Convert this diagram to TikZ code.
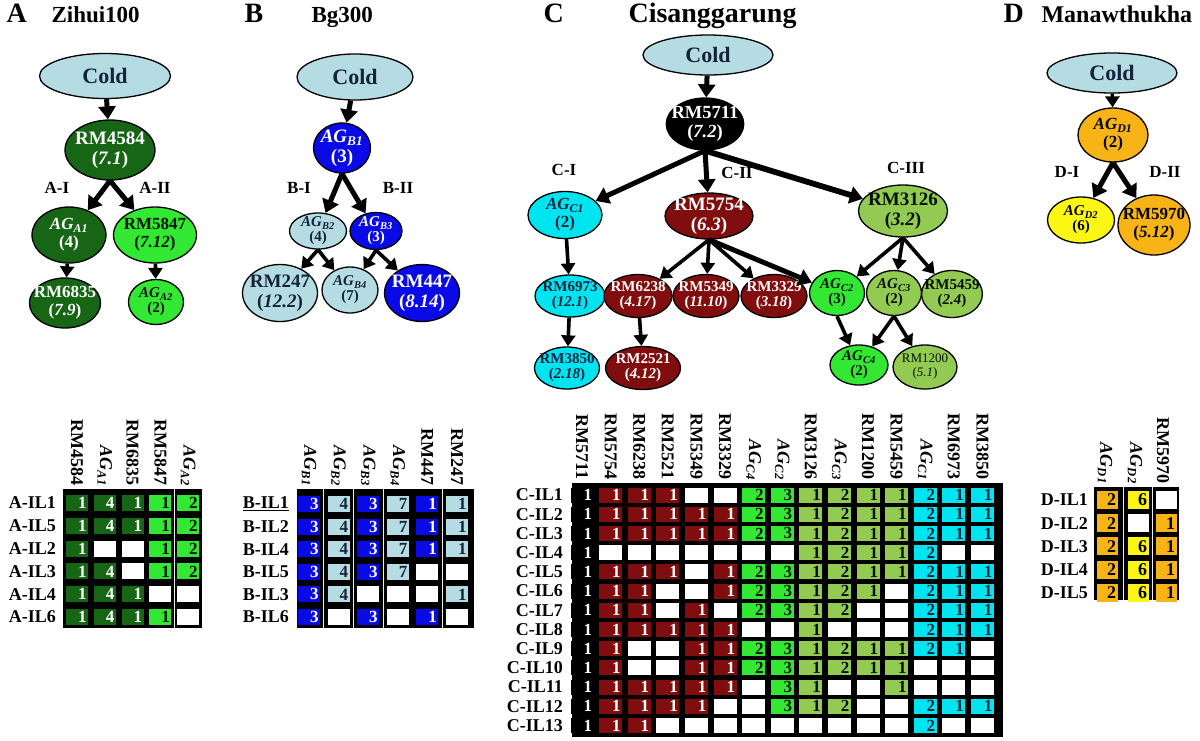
\documentclass[tikz,border=0pt]{standalone}
\usepackage{fontspec}
\setmainfont{Liberation Serif}
\usepackage{xcolor}
\usetikzlibrary{arrows.meta, shapes.geometric}

\definecolor{cPale}{RGB}{180,220,226}
\definecolor{cNavy}{RGB}{20,35,60}
\definecolor{cDkGreen}{RGB}{22,102,22}
\definecolor{cBrGreen}{RGB}{50,232,50}
\definecolor{cBlue}{RGB}{10,10,230}
\definecolor{cCyan}{RGB}{0,228,240}
\definecolor{cMaroon}{RGB}{128,14,14}
\definecolor{cOlive}{RGB}{146,202,82}
\definecolor{cOrange}{RGB}{248,180,22}
\definecolor{cYellow}{RGB}{252,246,20}

\newcommand\agrp[1]{{\itshape AG\textsubscript{#1}}}

\tikzset{
  gnode/.style={ellipse, draw=black, line width=1.3pt, inner sep=-6pt, align=center},
  sz/.style 2 args={minimum width=#1pt, minimum height=#2pt},
  fcold/.style={font=\bfseries\fontsize{22}{24}\selectfont},
  fbig/.style={font=\bfseries\fontsize{19}{20}\selectfont},
  fmid/.style={font=\bfseries\fontsize{17}{18}\selectfont},
  fsml/.style={font=\bfseries\fontsize{15}{15}\selectfont},
  ftiny/.style={font=\fontsize{13}{14}\selectfont},
  % tons de preenchimento
  pal/.style={fill=cPale, text=cNavy},
  dkg/.style={fill=cDkGreen, text=white},
  brg/.style={fill=cBrGreen, text=black!80!cDkGreen},
  blu/.style={fill=cBlue, text=white},
  cyn/.style={fill=cCyan, text=cNavy},
  mrn/.style={fill=cMaroon, text=white},
  olv/.style={fill=cOlive, text=black!85!cDkGreen},
  org/.style={fill=cOrange, text=black!85!cNavy},
  ylw/.style={fill=cYellow, text=black!85!cNavy},
  blk/.style={fill=black, text=white},
  cold/.style={gnode, pal, fcold},
  link/.style={line width=5pt, -{Triangle[length=13pt,width=17pt]}},
  sublink/.style={line width=3.6pt, -{Triangle[length=11pt,width=14pt]}},
  brlab/.style={font=\bfseries\fontsize{17}{17}\selectfont},
  letter/.style={anchor=base west, font=\bfseries\fontsize{28}{28}\selectfont},
  ttl/.style={anchor=base west, font=\bfseries\fontsize{23}{23}\selectfont},
  rowlab/.style={anchor=east, inner sep=1pt, font=\bfseries\fontsize{18}{18}\selectfont},
  colhead/.style={rotate=-90, anchor=east, inner sep=1pt, font=\bfseries\fontsize{18}{18}\selectfont},
  cell/.style={inner xsep=1.5pt, inner ysep=0pt, align=right, font=\bfseries\fontsize{17}{17}\selectfont},
  cellsz/.style 2 args={text width=#1pt, minimum height=#2pt},
  sep/.style={draw=white!85!gray, line width=1pt},
}

\begin{document}
\begin{tikzpicture}[x=1pt, y=-1pt]
\useasboundingbox (0,0) rectangle (1200,740);

% ---------------- A: Zihui100
\node[letter] (Aletter) at (3,22) {A};
\node[ttl] (Aname) at (48,22) {Zihui100};
\node[cold, sz={131}{45}] (Acold) at (105,76) {Cold};
\node[gnode, dkg, fbig, sz={90}{60}] (Arm4584) at (110,150) {RM4584\\(\textit{7.1})};
\node[gnode, dkg, fmid, sz={74}{56}] (Aag1) at (69,235) {\agrp{A1}\\(4)};
\node[gnode, brg, fmid, sz={83}{56}] (Arm5847) at (155,235) {RM5847\\(\textit{7.12})};
\node[gnode, dkg, fmid, sz={70}{50}] (Arm6835) at (65,303) {RM6835\\(\textit{7.9})};
\node[gnode, brg, fsml, sz={55}{45}] (Aag2) at (156,302) {\agrp{A2}\\(2)};
\node[brlab] (AI) at (57,188) {A-I};
\node[brlab] (AII) at (155,188) {A-II};
\draw[link] (Acold) -- (Arm4584);
\draw[link] (Arm4584.south) -- (Aag1);
\draw[link] (Arm4584.south) -- (Arm5847);
\draw[sublink] (Aag1) -- (Arm6835);
\draw[sublink] (Arm5847) -- (Aag2);

% tabela A
\fill (63,489) rectangle (202,628);
\draw[sep] (174.5,489) -- (174.5,628);
\foreach \hd [count=\c] in {RM4584,\agrp{A1},RM6835,RM5847,\agrp{A2}}
  \node[colhead] (Ahd\c) at ({77+27.8*(\c-1)},487) {\hd};
\foreach \lab/\vals [count=\r] in {A-IL1/{1,4,1,1,2}, A-IL5/{1,4,1,1,2},
    A-IL2/{1,0,0,1,2}, A-IL3/{1,4,0,1,2}, A-IL4/{1,4,1,0,0}, A-IL6/{1,4,1,1,0}} {
  \node[rowlab] (Arow\r) at (57,{503+22.8*(\r-1)}) {\lab};
  \foreach \v [count=\c] in \vals {
    \pgfmathsetmacro\tone{{"dkg","dkg","dkg","brg","brg"}[\c-1]}
    \ifnum\v=0
      \node[cell, cellsz={19}{16}, fill=white] (A\r-\c) at ({77+27.8*(\c-1)},{503+22.8*(\r-1)}) {};
    \else
      \node[cell, cellsz={19}{16}, \tone] (A\r-\c) at ({77+27.8*(\c-1)},{503+22.8*(\r-1)}) {\v};
    \fi
  }
}

% ---------------- B: Bg300
\node[letter] (Bletter) at (241,22) {B};
\node[ttl] (Bname) at (308,22) {Bg300};
\node[cold, sz={116}{46}] (Bcold) at (355,77) {Cold};
\node[gnode, blu, fbig, sz={57}{50}] (Bag1) at (342,148) {\agrp{B1}\\(3)};
\node[gnode, pal, fsml, sz={57}{36}] (Bag2) at (318,231) {\agrp{B2}\\(4)};
\node[gnode, blu, fsml, sz={52}{37}] (Bag3) at (376,231) {\agrp{B3}\\(3)};
\node[gnode, pal, fbig, sz={75}{57}] (Brm247) at (280,293) {RM247\\(\textit{12.2})};
\node[gnode, pal, fsml, sz={56}{46}] (Bag4) at (350,290) {\agrp{B4}\\(7)};
\node[gnode, blu, fbig, sz={75}{57}] (Brm447) at (422,293) {RM447\\(\textit{8.14})};
\node[brlab] (BI) at (299,188) {B-I};
\node[brlab] (BII) at (398,188) {B-II};
\draw[link] (Bcold) -- (Bag1);
\draw[link] (Bag1.south) -- (Bag2);
\draw[link] (Bag1.south) -- (Bag3);
\draw[sublink] (Bag2.south) -- (Brm247);
\draw[sublink] (Bag2.south) -- (Bag4);
\draw[sublink] (Bag3.south) -- (Bag4);
\draw[sublink] (Bag3.south) -- (Brm447);

% tabela B
\fill (297,489) rectangle (474,628);
\foreach \sx in {323.8,353.3,383,442}
  \draw[sep] (\sx,489) -- (\sx,628);
\foreach \hd [count=\c] in {\agrp{B1},\agrp{B2},\agrp{B3},\agrp{B4},RM447,RM247}
  \node[colhead] (Bhd\c) at ({309+29.6*(\c-1)},487) {\hd};
\foreach \lab/\vals [count=\r] in {\underline{B-IL1}/{3,4,3,7,1,1}, B-IL2/{3,4,3,7,1,1},
    B-IL4/{3,4,3,7,1,1}, B-IL5/{3,4,3,7,0,0}, B-IL3/{3,4,0,0,0,1}, B-IL6/{3,0,3,0,1,0}} {
  \node[rowlab] (Brow\r) at (290,{504+22.6*(\r-1)}) {\lab};
  \foreach \v [count=\c] in \vals {
    \pgfmathsetmacro\tone{{"blu","pal","blu","pal","blu","pal"}[\c-1]}
    \ifnum\v=0
      \node[cell, cellsz={19}{16}, fill=white] (B\r-\c) at ({309+29.6*(\c-1)},{504+22.6*(\r-1)}) {};
    \else
      \node[cell, cellsz={19}{16}, \tone] (B\r-\c) at ({309+29.6*(\c-1)},{504+22.6*(\r-1)}) {\v};
    \fi
  }
}

% ---------------- C: Cisanggarung
\node[letter] (Cletter) at (540,22) {C};
\node[ttl, font=\bfseries\fontsize{28}{28}\selectfont] (Cname) at (625,22) {Cisanggarung};
\node[cold, sz={130}{40}] (Ccold) at (708,55) {Cold};
\node[gnode, blk, font=\bfseries\fontsize{18.5}{19}\selectfont, sz={76}{52}] (Crm5711) at (705,124) {RM5711\\(\textit{7.2})};
\node[gnode, cyn, fmid, sz={74}{47}] (Cag1) at (565,215) {\agrp{C1}\\(2)};
\node[gnode, mrn, fbig, sz={88}{46}] (Crm5754) at (709,216) {RM5754\\(\textit{6.3})};
\node[gnode, olv, fbig, sz={89}{52}] (Crm3126) at (903,211) {RM3126\\(\textit{3.2})};
\node[gnode, cyn, fsml, sz={70}{42}] (Crm6973) at (570,296) {RM6973\\(\textit{12.1})};
\node[gnode, mrn, fsml, sz={68}{43}] (Crm6238) at (638,296) {RM6238\\(\textit{4.17})};
\node[gnode, mrn, fsml, sz={66}{43}] (Crm5349) at (706,296) {RM5349\\(\textit{11.10})};
\node[gnode, mrn, fsml, sz={66}{43}] (Crm3329) at (774,296) {RM3329\\(\textit{3.18})};
\node[gnode, brg, fsml, sz={55}{45}] (Cag2) at (837,293) {\agrp{C2}\\(3)};
\node[gnode, olv, fsml, sz={55}{45}] (Cag3) at (894,293) {\agrp{C3}\\(2)};
\node[gnode, olv, fsml, sz={60}{47}] (Crm5459) at (952,294) {RM5459\\(\textit{2.4})};
\node[gnode, cyn, fsml, sz={65}{42}] (Crm3850) at (567,368) {RM3850\\(\textit{2.18})};
\node[gnode, mrn, fsml, sz={75}{43}] (Crm2521) at (643,368) {RM2521\\(\textit{4.12})};
\node[gnode, brg, fsml, sz={58}{40}] (Cag4) at (859,365) {\agrp{C4}\\(2)};
\node[gnode, olv, ftiny, sz={64}{44}] (Crm1200) at (925,367) {RM1200\\(\textit{5.1})};
\node[brlab] (CI) at (564,170) {C-I};
\node[brlab] (CII) at (737,173) {C-II};
\node[brlab] (CIII) at (906,168) {C-III};
\draw[link] (Ccold) -- (Crm5711);
\draw[link] (Crm5711.south) -- (Cag1);
\draw[link] (Crm5711.south) -- (Crm5754);
\draw[link, line width=5.8pt] (Crm5711.south) -- (Crm3126);
\draw[sublink] (Cag1) -- (Crm6973);
\draw[sublink] (Crm6973) -- (Crm3850);
\draw[sublink] (Crm5754.south) -- (Crm6238);
\draw[sublink] (Crm5754.south) -- (Crm5349);
\draw[sublink] (Crm5754.south) -- (Crm3329);
\draw[link] (Crm5754.south) -- (Cag2);
\draw[sublink] (Crm6238) -- (Crm2521);
\draw[sublink] (Crm3126.south) -- (Cag2);
\draw[sublink] (Crm3126.south) -- (Cag3);
\draw[sublink] (Crm3126.south) -- (Crm5459);
\draw[sublink] (Cag2.south) -- (Cag4);
\draw[sublink] (Cag3.south) -- (Cag4);
\draw[sublink] (Cag3.south) -- (Crm1200);

% tabela C
\fill (572,483) rectangle (1003,737);
\foreach \hd [count=\c] in {RM5711,RM5754,RM6238,RM2521,RM5349,RM3329,\agrp{C4},\agrp{C2},
    RM3126,\agrp{C3},RM1200,RM5459,\agrp{C1},RM6973,RM3850}
  \node[colhead] (Chd\c) at ({582+28.6*(\c-1)},481) {\hd};
\foreach \vals [count=\r] in {
    {1,1,1,1,0,0,2,3,1,2,1,1,2,1,1}, {1,1,1,1,1,1,2,3,1,2,1,1,2,1,1},
    {1,1,1,1,1,1,2,3,1,2,1,1,2,1,1}, {1,0,0,0,0,0,0,0,1,2,1,1,2,0,0},
    {1,1,1,1,0,1,2,3,1,2,1,1,2,1,1}, {1,1,1,0,0,1,2,3,1,2,1,0,2,1,1},
    {1,1,1,0,1,0,2,3,1,2,0,0,2,1,1}, {1,1,1,1,1,1,0,0,1,0,0,0,2,1,1},
    {1,1,0,0,1,1,2,3,1,2,1,1,2,1,0}, {1,1,0,0,1,1,2,3,1,2,1,1,0,0,0},
    {1,1,1,1,1,1,0,3,1,0,0,1,0,0,0}, {1,1,1,1,1,0,0,3,1,2,0,0,2,1,1},
    {1,1,1,0,0,0,0,0,0,0,0,0,2,0,0}} {
  \node[rowlab] (Crow\r) at (564,{495+19.2*(\r-1)}) {C-IL\r};
  \foreach \v [count=\c] in \vals {
    \pgfmathsetmacro\tone{{"blk","mrn","mrn","mrn","mrn","mrn","brg","brg",
      "olv","olv","olv","olv","cyn","cyn","cyn"}[\c-1]}
    \ifnum\v=0
      \node[cell, cellsz={20}{15}, fill=white] (C\r-\c) at ({582+28.6*(\c-1)},{495+19.2*(\r-1)}) {};
    \else
      \node[cell, cellsz={20}{15}, \tone] (C\r-\c) at ({582+28.6*(\c-1)},{495+19.2*(\r-1)}) {\v};
    \fi
  }
}

% ---------------- D: Manawthukha
\node[letter] (Dletter) at (1000,22) {D};
\node[ttl, font=\bfseries\fontsize{24}{24}\selectfont] (Dname) at (1038,22) {Manawthukha};
\node[cold, sz={130}{40}] (Dcold) at (1112,73) {Cold};
\node[gnode, org, fmid, sz={70}{54}] (Dag1) at (1113,135) {\agrp{D1}\\(2)};
\node[gnode, ylw, fsml, sz={67}{46}] (Dag2) at (1081,220) {\agrp{D2}\\(6)};
\node[gnode, org, fmid, sz={72}{60}] (Drm5970) at (1154,225) {RM5970\\(\textit{5.12})};
\node[brlab] (DI) at (1067,172) {D-I};
\node[brlab] (DII) at (1165,172) {D-II};
\draw[sublink] (Dcold) -- (Dag1);
\draw[link] (Dag1.south) -- (Dag2);
\draw[link] (Dag1.south) -- (Drm5970);

% tabela D
\fill (1094,487) rectangle (1179,600);
\foreach \sx in {1123,1152}
  \draw[sep] (\sx,487) -- (\sx,600);
\foreach \hd/\hx [count=\c] in {\agrp{D1}/1105,\agrp{D2}/1135,RM5970/1163}
  \node[colhead] (Dhd\c) at (\hx,485) {\hd};
\foreach \vals [count=\r] in {{2,6,0}, {2,0,1}, {2,6,1}, {2,6,1}, {2,6,1}} {
  \node[rowlab] (Drow\r) at (1089,{500+23.2*(\r-1)}) {D-IL\r};
  \foreach \v [count=\c] in \vals {
    \pgfmathsetmacro\tone{{"org","ylw","org"}[\c-1]}
    \pgfmathsetmacro\cx{{1107,1138,1166}[\c-1]}
    \ifnum\v=0
      \node[cell, cellsz={18}{18}, fill=white] (D\r-\c) at (\cx,{500+23.2*(\r-1)}) {};
    \else
      \node[cell, cellsz={18}{18}, \tone, font=\bfseries\fontsize{18}{18}\selectfont] (D\r-\c) at (\cx,{500+23.2*(\r-1)}) {\v};
    \fi
  }
}
\end{tikzpicture}
\end{document}
